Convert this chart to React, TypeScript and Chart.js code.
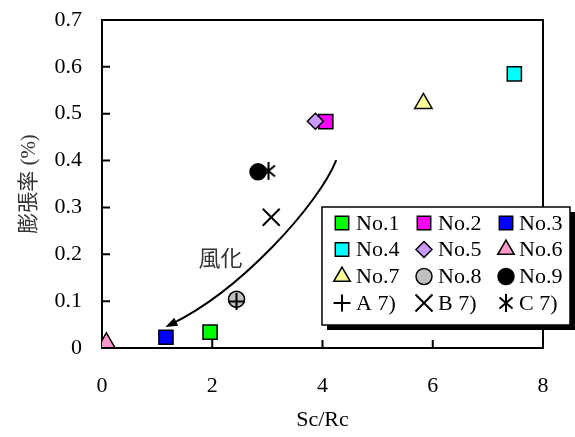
import { useEffect, useRef } from 'react';
import { Chart, registerables } from 'chart.js';
import { drawPoint } from 'chart.js/helpers';

Chart.register(...registerables);

// Expansion ratio against Sc/Rc for each specimen
const seriesLabels = ['No.1', 'No.2', 'No.3', 'No.4', 'No.5', 'No.6', 'No.7', 'No.8', 'No.9', 'A 7)', 'B 7)', 'C 7)'];
const scRc = [1.96, 4.06, 1.16, 7.48, 3.87, 0.08, 5.83, 2.44, 2.83, 2.44, 3.07, 3.02];
const expansion = [0.034, 0.483, 0.023, 0.585, 0.484, 0.011, 0.522, 0.104, 0.376, 0.099, 0.279, 0.378];

const markerFills = ['#00ff00', '#ff00ff', '#0000ff', '#00ffff', '#cc99ff', '#ff99cc', '#ffff99', '#c0c0c0', '#000000', '#000000', '#000000', '#000000'];
const markerShapes = ['rect', 'rect', 'rect', 'rect', 'rectRot', 'triangle', 'triangle', 'circle', 'circle', 'cross', 'crossRot', 'asterisk'];
const markerRadii: Record<string, number> = { rect: 10, rectRot: 8, triangle: 10, circle: 8, cross: 8.5, crossRot: 12, asterisk: 9 };

const xTickLabels = ['0', '2', '4', '6', '8'];
const yTickLabels = ['0', '0.1', '0.2', '0.3', '0.4', '0.5', '0.6', '0.7'];

// Weathering trend arrow (cubic curve in data coordinates) and its caption
const arrowFrom = [4.25, 0.401];
const arrowCtrl1 = [3.92, 0.305];
const arrowCtrl2 = [2.51, 0.122];
const arrowTo = [1.15, 0.045];
const arrowCaption = '風化';
const captionAt = [2.15, 0.193];

const SERIF = "'Times New Roman', 'Liberation Serif', serif";

function makeAsterisk(): HTMLCanvasElement {
  const c = document.createElement('canvas');
  c.width = 22;
  c.height = 22;
  const g = c.getContext('2d')!;
  g.strokeStyle = '#000';
  g.lineWidth = 2;
  g.beginPath();
  g.moveTo(11, 2);
  g.lineTo(11, 20);
  g.moveTo(4.5, 5.5);
  g.lineTo(17.5, 16.5);
  g.moveTo(17.5, 5.5);
  g.lineTo(4.5, 16.5);
  g.stroke();
  return c;
}

const framePlugin = {
  id: 'frameTicks',
  beforeDatasetsDraw(chart: any) {
    const { ctx, chartArea, scales } = chart;
    const { left, right, top, bottom } = chartArea;
    ctx.save();
    ctx.strokeStyle = '#000';
    ctx.lineWidth = 2;
    ctx.beginPath();
    ctx.moveTo(left - 1, top);
    ctx.lineTo(right, top);
    ctx.lineTo(right, bottom);
    ctx.stroke();
    ctx.beginPath();
    scales.y.ticks.forEach((t: any) => {
      if (t.value <= scales.y.min || t.value >= scales.y.max) return;
      const py = scales.y.getPixelForValue(t.value);
      ctx.moveTo(left, py);
      ctx.lineTo(left + 8, py);
    });
    scales.x.ticks.forEach((t: any) => {
      if (t.value <= scales.x.min || t.value >= scales.x.max) return;
      const px = scales.x.getPixelForValue(t.value);
      ctx.moveTo(px, bottom);
      ctx.lineTo(px, bottom - 8);
    });
    ctx.stroke();
    ctx.restore();
  },
};

const arrowPlugin = {
  id: 'weatheringArrow',
  afterDatasetsDraw(chart: any) {
    const { ctx, scales } = chart;
    const px = (p: number[]) => [scales.x.getPixelForValue(p[0]), scales.y.getPixelForValue(p[1])];
    const [x0, y0] = px(arrowFrom);
    const [x1, y1] = px(arrowCtrl1);
    const [x2, y2] = px(arrowCtrl2);
    const [x3, y3] = px(arrowTo);
    const ang = Math.atan2(y3 - y2, x3 - x2);
    const headLen = 12;
    const headHalf = 4.5;
    ctx.save();
    ctx.strokeStyle = '#000';
    ctx.fillStyle = '#000';
    ctx.lineWidth = 2;
    ctx.beginPath();
    ctx.moveTo(x0, y0);
    ctx.bezierCurveTo(x1, y1, x2, y2, x3 - Math.cos(ang) * 6, y3 - Math.sin(ang) * 6);
    ctx.stroke();
    const bx = x3 - Math.cos(ang) * headLen;
    const by = y3 - Math.sin(ang) * headLen;
    ctx.beginPath();
    ctx.moveTo(x3, y3);
    ctx.lineTo(bx + Math.sin(ang) * headHalf, by - Math.cos(ang) * headHalf);
    ctx.lineTo(bx - Math.sin(ang) * headHalf, by + Math.cos(ang) * headHalf);
    ctx.closePath();
    ctx.fill();
    const [cx, cy] = px(captionAt);
    ctx.font = "22px 'Noto Sans CJK JP', sans-serif";
    ctx.fillStyle = '#333';
    ctx.textAlign = 'center';
    ctx.textBaseline = 'middle';
    ctx.fillText(arrowCaption, cx, cy);
    ctx.restore();
  },
};

const legendPlugin = {
  id: 'boxLegend',
  afterDraw(chart: any) {
    const { ctx } = chart;
    const boxX = 322;
    const boxY = 207;
    const boxW = 248;
    const boxH = 118;
    const shadow = 5;
    ctx.save();
    ctx.fillStyle = '#000';
    ctx.fillRect(boxX + shadow, boxY + shadow, boxW, boxH);
    ctx.fillStyle = '#fff';
    ctx.fillRect(boxX, boxY, boxW, boxH);
    ctx.strokeStyle = '#000';
    ctx.lineWidth = 1.5;
    ctx.strokeRect(boxX, boxY, boxW, boxH);

    const colMarker = [342, 424, 506];
    const colText = [356, 438, 519];
    const rowY = [223, 249.5, 276.5, 303];
    ctx.font = `22px ${SERIF}`;
    ctx.textBaseline = 'middle';
    ctx.textAlign = 'left';
    chart.data.datasets.forEach((ds: any, i: number) => {
      const col = i % 3;
      const row = Math.floor(i / 3);
      const mx = colMarker[col];
      const my = rowY[row];
      ctx.save();
      ctx.fillStyle = ds.pointBackgroundColor;
      ctx.strokeStyle = ds.pointBorderColor;
      ctx.lineWidth = ds.pointBorderWidth;
      drawPoint(ctx, {
        pointStyle: ds.pointStyle,
        radius: ds.legendRadius,
        rotation: 0,
        borderWidth: ds.pointBorderWidth,
      } as any, mx, my);
      ctx.restore();
      ctx.fillStyle = '#000';
      ctx.fillText(ds.label, colText[col], my + 1);
    });
    ctx.restore();
  },
};

export default function App() {
  const canvasRef = useRef<HTMLCanvasElement | null>(null);

  useEffect(() => {
    const canvas = canvasRef.current;
    if (!canvas) return;
    const asterisk = makeAsterisk();

    const datasets = seriesLabels.map((label, i) => {
      const shape = markerShapes[i];
      const lineMark = shape === 'cross' || shape === 'crossRot' || shape === 'asterisk';
      const r = markerRadii[shape];
      return {
        label,
        data: [{ x: scRc[i], y: expansion[i] }],
        // later series are painted over earlier ones
        order: -i,
        pointStyle: shape === 'asterisk' ? asterisk : shape,
        pointRadius: r,
        legendRadius: shape === 'rect' ? 9.5 : shape === 'triangle' ? 9.5 : r,
        pointBackgroundColor: markerFills[i],
        pointBorderColor: '#000',
        pointBorderWidth: lineMark ? 2 : 1.5,
        showLine: false,
      };
    });

    const chart = new Chart(canvas, {
      type: 'scatter',
      data: { datasets: datasets as any },
      options: {
        animation: false,
        responsive: false,
        devicePixelRatio: 1,
        events: [],
        layout: { padding: { top: 20, right: 32, left: 0, bottom: 0 } },
        plugins: {
          legend: { display: false },
          tooltip: { enabled: false },
        },
        scales: {
          x: {
            type: 'linear',
            min: 0,
            max: 8,
            grid: { display: false, drawTicks: false },
            border: { display: true, color: '#000', width: 2 },
            ticks: {
              stepSize: 2,
              padding: 25,
              color: '#000',
              font: { family: SERIF, size: 22 },
              callback: (_v: any, idx: number) => xTickLabels[idx],
            },
            title: {
              display: true,
              text: 'Sc/Rc',
              color: '#000',
              font: { family: SERIF, size: 22 },
              padding: { top: 0, bottom: 4 },
            },
            afterFit: (scale: any) => {
              scale.height = 89;
              scale.paddingLeft = 0;
              scale.paddingRight = 0;
            },
          },
          y: {
            type: 'linear',
            min: 0,
            max: 0.7,
            grid: { display: false, drawTicks: false },
            border: { display: true, color: '#000', width: 2 },
            ticks: {
              stepSize: 0.1,
              padding: 20,
              color: '#000',
              font: { family: SERIF, size: 22 },
              callback: (_v: any, idx: number) => yTickLabels[idx],
            },
            title: {
              display: true,
              text: '膨張率 (%)',
              color: '#333',
              font: { family: "'Liberation Serif', 'Noto Sans CJK JP', serif", size: 21 },
              padding: { top: 17, bottom: 0 },
            },
            afterFit: (scale: any) => {
              scale.width = 102;
              scale.paddingTop = 0;
              scale.paddingBottom = 0;
            },
          },
        },
      },
      plugins: [framePlugin, arrowPlugin, legendPlugin],
    });

    return () => chart.destroy();
  }, []);

  return (
    <div style={{ position: 'fixed', left: 0, top: 0, width: 575, height: 437, background: '#fff' }}>
      <canvas ref={canvasRef} width={575} height={437} style={{ width: 575, height: 437, display: 'block' }} />
    </div>
  );
}
